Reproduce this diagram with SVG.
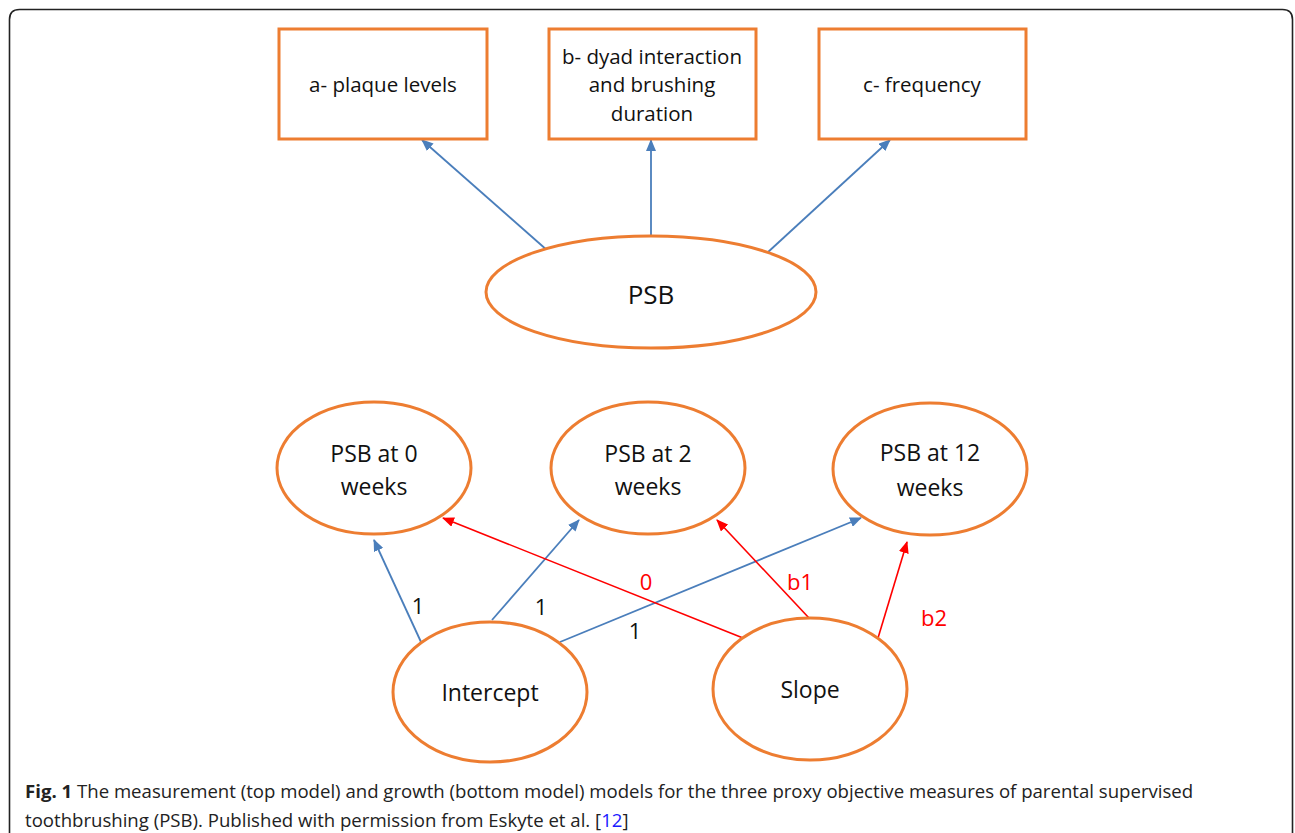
<svg xmlns="http://www.w3.org/2000/svg" width="1295" height="833" viewBox="0 0 1295 833">
<style>
.box{fill:#fff;stroke:#ED7D31;stroke-width:3}
.ell{fill:#fff;stroke:#ED7D31;stroke-width:3}
.lbl{font-family:"Open Sans","Liberation Sans",sans-serif;font-size:20.5px;fill:#111;text-anchor:middle}
.big{font-size:23px}
.blue{stroke:#4A7EBB;stroke-width:1.8;fill:none}
.red{stroke:#FF0000;stroke-width:1.6;fill:none}
.num{font-family:"Open Sans","Liberation Sans",sans-serif;font-size:22px;fill:#111;text-anchor:middle}
.rnum{font-family:"Open Sans","Liberation Sans",sans-serif;font-size:22px;fill:#FF0000;text-anchor:middle}
.cap{font-family:"Open Sans","Liberation Sans",sans-serif;font-size:18.6px;fill:#222}
</style>
<defs>
<marker id="ab" markerUnits="userSpaceOnUse" markerWidth="12" markerHeight="10" refX="11" refY="5" orient="auto"><path d="M0,0 L12,5 L0,10 z" fill="#4A7EBB"/></marker>
<marker id="ar" markerUnits="userSpaceOnUse" markerWidth="12" markerHeight="10" refX="11" refY="5" orient="auto"><path d="M0,0 L12,5 L0,10 z" fill="#FF0000"/></marker>
</defs>
<rect width="1295" height="833" fill="#fff"/>
<path d="M9.5,840 V19.5 Q9.5,9.5 19.5,9.5 H1282.5 Q1292.5,9.5 1292.5,19.5 V840" fill="none" stroke="#222" stroke-width="1.6"/>

<g id="connectors">
<line class="blue" x1="548" y1="251" x2="422" y2="140" marker-end="url(#ab)"/>
<line class="blue" x1="651" y1="236" x2="651" y2="140" marker-end="url(#ab)"/>
<line class="blue" x1="767" y1="253" x2="890" y2="140" marker-end="url(#ab)"/>
<line class="blue" x1="421" y1="642" x2="374" y2="540" marker-end="url(#ab)"/>
<line class="blue" x1="492" y1="620" x2="579" y2="520" marker-end="url(#ab)"/>
<line class="blue" x1="560" y1="642" x2="861" y2="518" marker-end="url(#ab)"/>
<line class="red" x1="743" y1="638" x2="443" y2="518" marker-end="url(#ar)"/>
<line class="red" x1="809" y1="618" x2="717" y2="520" marker-end="url(#ar)"/>
<line class="red" x1="878" y1="638" x2="907" y2="542" marker-end="url(#ar)"/>
<text class="num" x="418" y="614">1</text>
<text class="num" x="541" y="615">1</text>
<text class="num" x="635" y="639">1</text>
<text class="rnum" x="646" y="590">0</text>
<text class="rnum" x="800" y="590">b1</text>
<text class="rnum" x="934" y="626">b2</text>
</g>

<g id="box-a"><rect class="box" x="279" y="29" width="208" height="110"/><text class="lbl" x="383" y="92">a- plaque levels</text></g>
<g id="box-b"><rect class="box" x="549" y="29" width="207" height="110"/><text class="lbl" x="652" y="64">b- dyad interaction</text><text class="lbl" x="652" y="92">and brushing</text><text class="lbl" x="652" y="121">duration</text></g>
<g id="box-c"><rect class="box" x="819" y="29" width="207" height="110"/><text class="lbl" x="922" y="92">c- frequency</text></g>

<g id="psb"><ellipse class="ell" cx="651" cy="292" rx="165" ry="56"/><text class="lbl" x="651" y="304" style="font-size:26px">PSB</text></g>
<g id="psb0"><ellipse class="ell" cx="374" cy="468" rx="97" ry="66"/><text class="lbl big" x="374" y="462">PSB at 0</text><text class="lbl big" x="374" y="495">weeks</text></g>
<g id="psb2"><ellipse class="ell" cx="648" cy="468" rx="97" ry="66"/><text class="lbl big" x="648" y="462">PSB at 2</text><text class="lbl big" x="648" y="495">weeks</text></g>
<g id="psb12"><ellipse class="ell" cx="930" cy="469" rx="97" ry="66"/><text class="lbl big" x="930" y="461">PSB at 12</text><text class="lbl big" x="930" y="496">weeks</text></g>
<g id="intercept"><ellipse class="ell" cx="490" cy="692" rx="97" ry="70"/><text class="lbl big" x="490" y="701">Intercept</text></g>
<g id="slope"><ellipse class="ell" cx="810" cy="689" rx="97" ry="71"/><text class="lbl big" x="810" y="698">Slope</text></g>

<text class="cap" x="25" y="798"><tspan font-weight="bold">Fig. 1</tspan> The measurement (top model) and growth (bottom model) models for the three proxy objective measures of parental supervised</text>
<text class="cap" x="25" y="827">toothbrushing (PSB). Published with permission from Eskyte et al. [<tspan fill="#1a1aff">12</tspan>]</text>
</svg>
